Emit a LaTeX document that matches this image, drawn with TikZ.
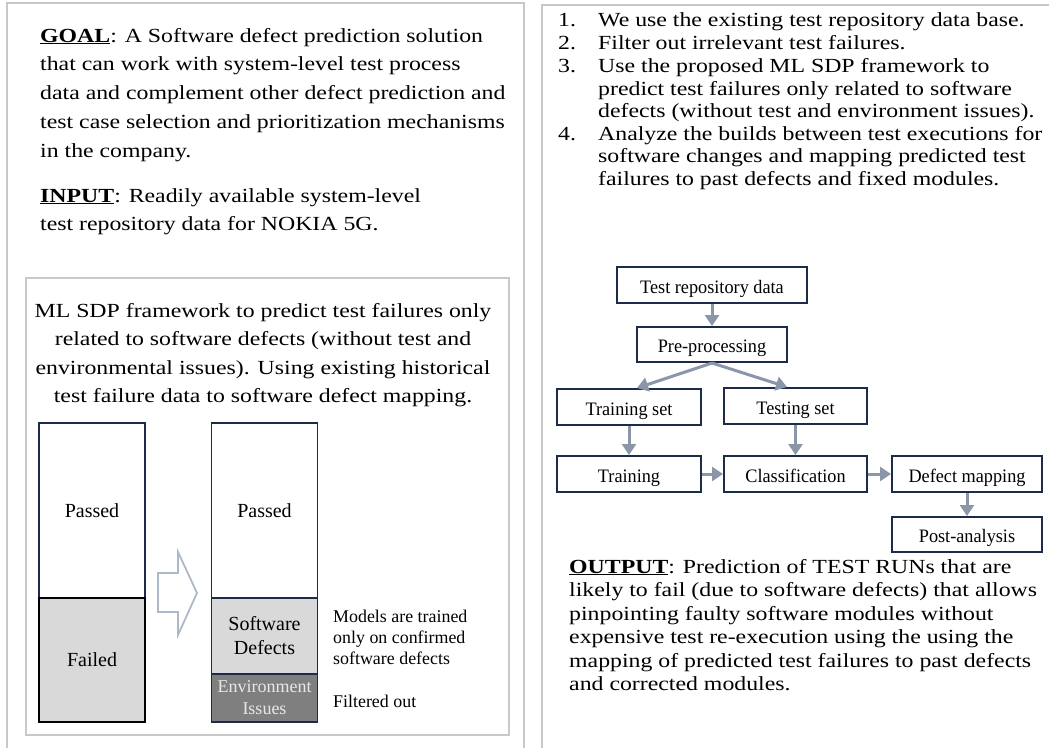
\documentclass[tikz,border=0pt]{standalone}
\usepackage{fontspec}
\setmainfont{Liberation Serif}
\newfontfamily\bodyfont[FakeStretch=1.19]{Liberation Serif}
\newfontfamily\flowfont[FakeStretch=0.96]{Liberation Serif}
\usetikzlibrary{arrows.meta}
\definecolor{panelgray}{HTML}{C8C8C8}
\definecolor{navy}{HTML}{1C2B4A}
\definecolor{flowarrow}{HTML}{8B97A8}
\definecolor{hollowgray}{HTML}{ADB8C8}
\definecolor{failgray}{HTML}{D9D9D9}
\definecolor{envgray}{HTML}{7F7F7F}
\definecolor{envtext}{HTML}{E8E8E8}

\begin{document}
\begin{tikzpicture}[x=1pt,y=-1pt,
  panel/.style={draw=panelgray,line width=2.5pt},
  lefttext/.style={anchor=base west,inner sep=0pt,font=\bodyfont\fontsize{20}{24}\selectfont},
  centertext/.style={anchor=base,inner sep=0pt,font=\bodyfont\fontsize{20}{24}\selectfont},
  righttext/.style={anchor=base west,inner sep=0pt,font=\bodyfont\fontsize{20}{24}\selectfont},
  notetext/.style={anchor=base west,inner sep=0pt,font=\fontsize{17.9}{21}\selectfont},
  barpart/.style={draw=navy,line width=1.6pt,inner sep=0pt,minimum width=106pt,
    align=center,font=\fontsize{20}{24}\selectfont},
  flowbox/.style={draw=navy,line width=2pt,inner sep=0pt,minimum height=36pt,
    text height=20pt,text depth=4pt,font=\flowfont\fontsize{19}{22}\selectfont},
  flowarr/.style={draw=flowarrow,line width=3pt,-{Triangle[length=11pt,width=14pt]}},
]
\useasboundingbox (0,0) rectangle (1049,747);
\clip (0,0) rectangle (1049,747);

% outer panels (open at the bottom / right)
\draw[panel] (7,760) |- (524,3) -- (524,760);
\draw[panel] (542,760) |- (1060,5);
% framework box
\draw[panel] (26,278) rectangle (509,735);

% goal and input
\node[lefttext] (g1) at (40,42)  {\underline{\textbf{GOAL}}: A Software defect prediction solution};
\node[lefttext] (g2) at (40,70.7)  {that can work with system-level test process};
\node[lefttext] (g3) at (40,99.4)  {data and complement other defect prediction and};
\node[lefttext] (g4) at (40,128) {test case selection and prioritization mechanisms};
\node[lefttext] (g5) at (40,157) {in the company.};
\node[lefttext] (i1) at (40,202) {\underline{\textbf{INPUT}}: Readily available system-level};
\node[lefttext] (i2) at (40,230) {test repository data for NOKIA 5G.};

% framework description
\node[centertext] (f1) at (263,317)   {ML SDP framework to predict test failures only};
\node[centertext] (f2) at (263,345.5) {related to software defects (without test and};
\node[centertext] (f3) at (263,374)   {environmental issues). Using existing historical};
\node[centertext] (f4) at (263,402)   {test failure data to software defect mapping.};

% bars
\node[barpart,minimum height=175pt] (lpass) at (92,510.5) {Passed};
\node[barpart,draw=black,line width=2.2pt,fill=failgray,minimum height=124pt] (lfail) at (92,660) {Failed};
\node[barpart,minimum height=175pt] (rpass) at (264.5,510.5) {Passed};
\node[barpart,fill=failgray,minimum height=76pt] (rsw) at (264.5,636) {Software\\Defects};
\node[barpart,fill=envgray,text=envtext,minimum height=48pt,
      font=\fontsize{18}{22}\selectfont] (renv) at (264.5,698) {Environment\\Issues};

% hollow arrow between bars
\draw[hollowgray,line width=1.8pt,line join=miter]
  (158,573) -- (178,573) -- (178,552) -- (197,593) -- (178,635) -- (178,612) -- (158,612) -- cycle;

% notes
\node[notetext] (n1) at (333,622) {Models are trained};
\node[notetext] (n2) at (333,643) {only on confirmed};
\node[notetext] (n3) at (333,664) {software defects};
\node[notetext] (n4) at (333,707) {Filtered out};

% steps
\foreach \y/\n in {26/1,49/2,72/3,140/4}
  \node[righttext] (num\n) at (558,\y) {\n.};
\node[righttext] (s1)  at (598,26)  {We use the existing test repository data base.};
\node[righttext] (s2)  at (598,49)  {Filter out irrelevant test failures.};
\node[righttext] (s3a) at (598,72)  {Use the proposed ML SDP framework to};
\node[righttext] (s3b) at (598,95)  {predict test failures only related to software};
\node[righttext] (s3c) at (598,117) {defects (without test and environment issues).};
\node[righttext] (s4a) at (598,140) {Analyze the builds between test executions for};
\node[righttext] (s4b) at (598,162.5) {software changes and mapping predicted test};
\node[righttext] (s4c) at (598,185) {failures to past defects and fixed modules.};

% flowchart
\node[flowbox,minimum width=190pt] (trd) at (712,285)   {Test repository data};
\node[flowbox,minimum width=150pt,minimum height=35pt] (pre) at (712,344.5) {Pre-processing};
\node[flowbox,minimum width=144pt] (trs) at (629,407)   {Training set};
\node[flowbox,minimum width=143pt] (tes) at (795.5,406) {Testing set};
\node[flowbox,minimum width=144pt] (trn) at (629,474)   {Training};
\node[flowbox,minimum width=143pt] (cls) at (795.5,474) {Classification};
\node[flowbox,minimum width=150pt] (dm)  at (967,474)   {Defect mapping};
\node[flowbox,minimum width=150pt,minimum height=35pt] (pa) at (967,534.5) {Post-analysis};

\draw[flowarr] (trd.south) -- (pre.north);
\draw[flowarr] (pre.south) -- ([xshift=8pt]trs.north);
\draw[flowarr] (pre.south) -- ([xshift=-8.5pt]tes.north);
\draw[flowarr] (trs.south) -- (trn.north);
\draw[flowarr] (tes.south) -- (cls.north);
\draw[flowarr] (trn.east) -- (cls.west);
\draw[flowarr] (cls.east) -- (dm.west);
\draw[flowarr] (dm.south) -- (pa.north);

% output
\node[righttext] (o1) at (569,573)   {\underline{\textbf{OUTPUT}}: Prediction of TEST RUNs that are};
\node[righttext] (o2) at (569,596.5) {likely to fail (due to software defects) that allows};
\node[righttext] (o3) at (569,620)   {pinpointing faulty software modules without};
\node[righttext] (o4) at (569,643.5) {expensive test re-execution using the using the};
\node[righttext] (o5) at (569,667)   {mapping of predicted test failures to past defects};
\node[righttext] (o6) at (569,690.5) {and corrected modules.};
\end{tikzpicture}
\end{document}
